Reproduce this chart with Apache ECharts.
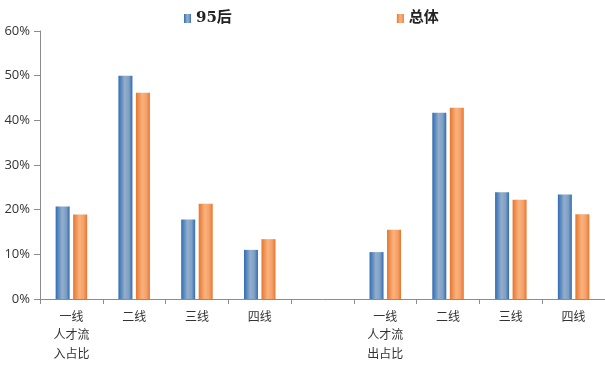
<!DOCTYPE html>
<html><head><meta charset="utf-8">
<script src="https://cdn.jsdelivr.net/npm/echarts@6/dist/echarts.min.js"></script>
<style>html,body{margin:0;padding:0;background:#fff}#c{width:605px;height:383px}</style>
</head><body><div id="c"></div>
<script>
const categories = ['一线\n人才流\n入占比','二线','三线','四线','','一线\n人才流\n出占比','二线','三线','四线'];
const series95 = [20.7, 50.0, 17.8, 11.0, null, 10.5, 41.7, 23.9, 23.4];
const seriesAll = [18.9, 46.2, 21.3, 13.4, null, 15.5, 42.8, 22.2, 19.0];
const yTicks = [0, 10, 20, 30, 40, 50, 60];

const blueGrad = new echarts.graphic.LinearGradient(0,0,1,0,[
  {offset:0,color:'#2f6cb4'},{offset:0.45,color:'#93aecb'},{offset:0.75,color:'#7f9fc4'},{offset:1,color:'#2f6cb4'}]);
const orangeGrad = new echarts.graphic.LinearGradient(0,0,1,0,[
  {offset:0,color:'#e5762f'},{offset:0.45,color:'#f9b27c'},{offset:0.75,color:'#f6a06a'},{offset:1,color:'#e5762f'}]);

const chart = echarts.init(document.getElementById('c'));
chart.setOption({
  animation:false,
  legend:{
    top:6, left:179, itemGap:165, itemWidth:7, itemHeight:9, icon:'rect',
    textStyle:{fontFamily:'"DejaVu Serif", "Noto Sans CJK SC", serif', fontWeight:'bold', fontSize:15, color:'#222'},
    data:['95后','总体']
  },
  grid:{left:40, right:0, top:31, bottom:84, containLabel:false},
  xAxis:{
    type:'category', data:categories,
    axisLine:{lineStyle:{color:'#8c8c8c'}},
    axisTick:{show:true, alignWithLabel:false, length:5, lineStyle:{color:'#8c8c8c'}},
    axisLabel:{interval:0, fontFamily:'"Noto Sans CJK SC"', fontSize:12, color:'#333', lineHeight:18.5, margin:8}
  },
  yAxis:{
    type:'value', min:0, max:60, interval:10,
    axisLine:{show:true, lineStyle:{color:'#8c8c8c'}},
    axisTick:{show:true, length:6, lineStyle:{color:'#8c8c8c'}},
    splitLine:{show:false},
    axisLabel:{formatter:function(v){return yTicks.indexOf(v)>=0? v+'%':'';}, fontFamily:'"Open Sans", sans-serif', fontSize:13, color:'#333', margin:10}
  },
  series:[
    {name:'95后', type:'bar', data:series95, barWidth:14, barGap:'25%', itemStyle:{color:blueGrad}},
    {name:'总体', type:'bar', data:seriesAll, barWidth:14, barGap:'25%', itemStyle:{color:orangeGrad}}
  ]
});
</script></body></html>
